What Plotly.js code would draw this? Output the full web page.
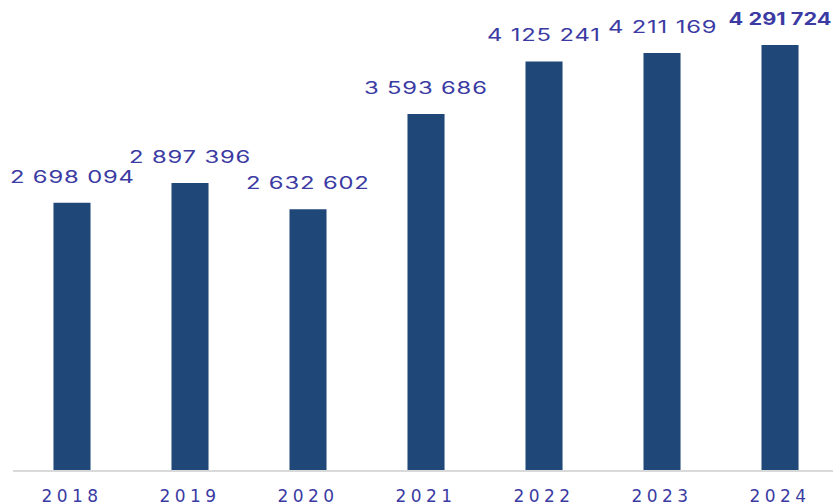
<!DOCTYPE html>
<html>
<head>
<meta charset="utf-8">
<script src="https://cdn.plot.ly/plotly-3.0.1.min.js"></script>
<style>
  html, body { margin: 0; padding: 0; background: #fff; overflow: hidden; }
  #chart { width: 833px; height: 504px; }
  .annotation-text {
    font-variant-numeric: proportional-nums;
    letter-spacing: 0.6px;
    transform-box: fill-box;
    transform-origin: center;
    transform: scaleX(1.4);
  }
  .xtick text { letter-spacing: 4.5px; }
</style>
</head>
<body>
<div id="chart"></div>
<script>
const years = ["2018", "2019", "2020", "2021", "2022", "2023", "2024"];
const values = [2698094, 2897396, 2632602, 3593686, 4125241, 4211169, 4291724];
const labels = ["2 698 094", "2 897 396", "2 632 602", "3 593 686", "4 125 241", "4 211 169", "4 291 724"];
const boldYear = "2024";

const barColor = "#1f4878";
const textColor = "#3b3ba3";
const labelFont = "Inter, DejaVu Sans, sans-serif";
const tickFontFamily = "DejaVu Sans, sans-serif";

const trace = {
  type: "bar",
  x: years,
  y: values,
  marker: { color: barColor },
  hoverinfo: "none"
};

// category axis: annotation x given as the category index
const annotations = years.map((yr, i) => ({
  x: i,
  y: values[i],
  xref: "x",
  yref: "y",
  text: yr === boldYear ? "<b>" + labels[i] + "</b>" : labels[i],
  showarrow: false,
  yanchor: "bottom",
  xanchor: "center",
  yshift: 13,
  font: { family: labelFont, size: 17, color: textColor }
}));

const layout = {
  width: 833,
  height: 504,
  margin: { l: 13, r: 0, t: 0, b: 34, pad: 0 },
  paper_bgcolor: "#ffffff",
  plot_bgcolor: "#ffffff",
  showlegend: false,
  bargap: 0.686,
  xaxis: {
    type: "category",
    range: [-0.5, 6.449],
    showline: true,
    linecolor: "#d9d9d9",
    linewidth: 2,
    ticks: "",
    showgrid: false,
    zeroline: false,
    ticklabelstandoff: 10,
    tickfont: { family: tickFontFamily, size: 17, color: textColor },
    fixedrange: true
  },
  yaxis: {
    range: [0, 4745000],
    showgrid: false,
    zeroline: false,
    showline: false,
    showticklabels: false,
    ticks: "",
    fixedrange: true
  },
  annotations: annotations
};

Plotly.newPlot("chart", [trace], layout, { displayModeBar: false, staticPlot: true }).then(() => {
  const texts = document.querySelectorAll(".annotation-text");
  const idx = years.indexOf(boldYear);
  if (texts[idx]) {
    texts[idx].style.transform = "scaleX(1.28)";
    texts[idx].style.letterSpacing = "0px";
  }
});
</script>
</body>
</html>
